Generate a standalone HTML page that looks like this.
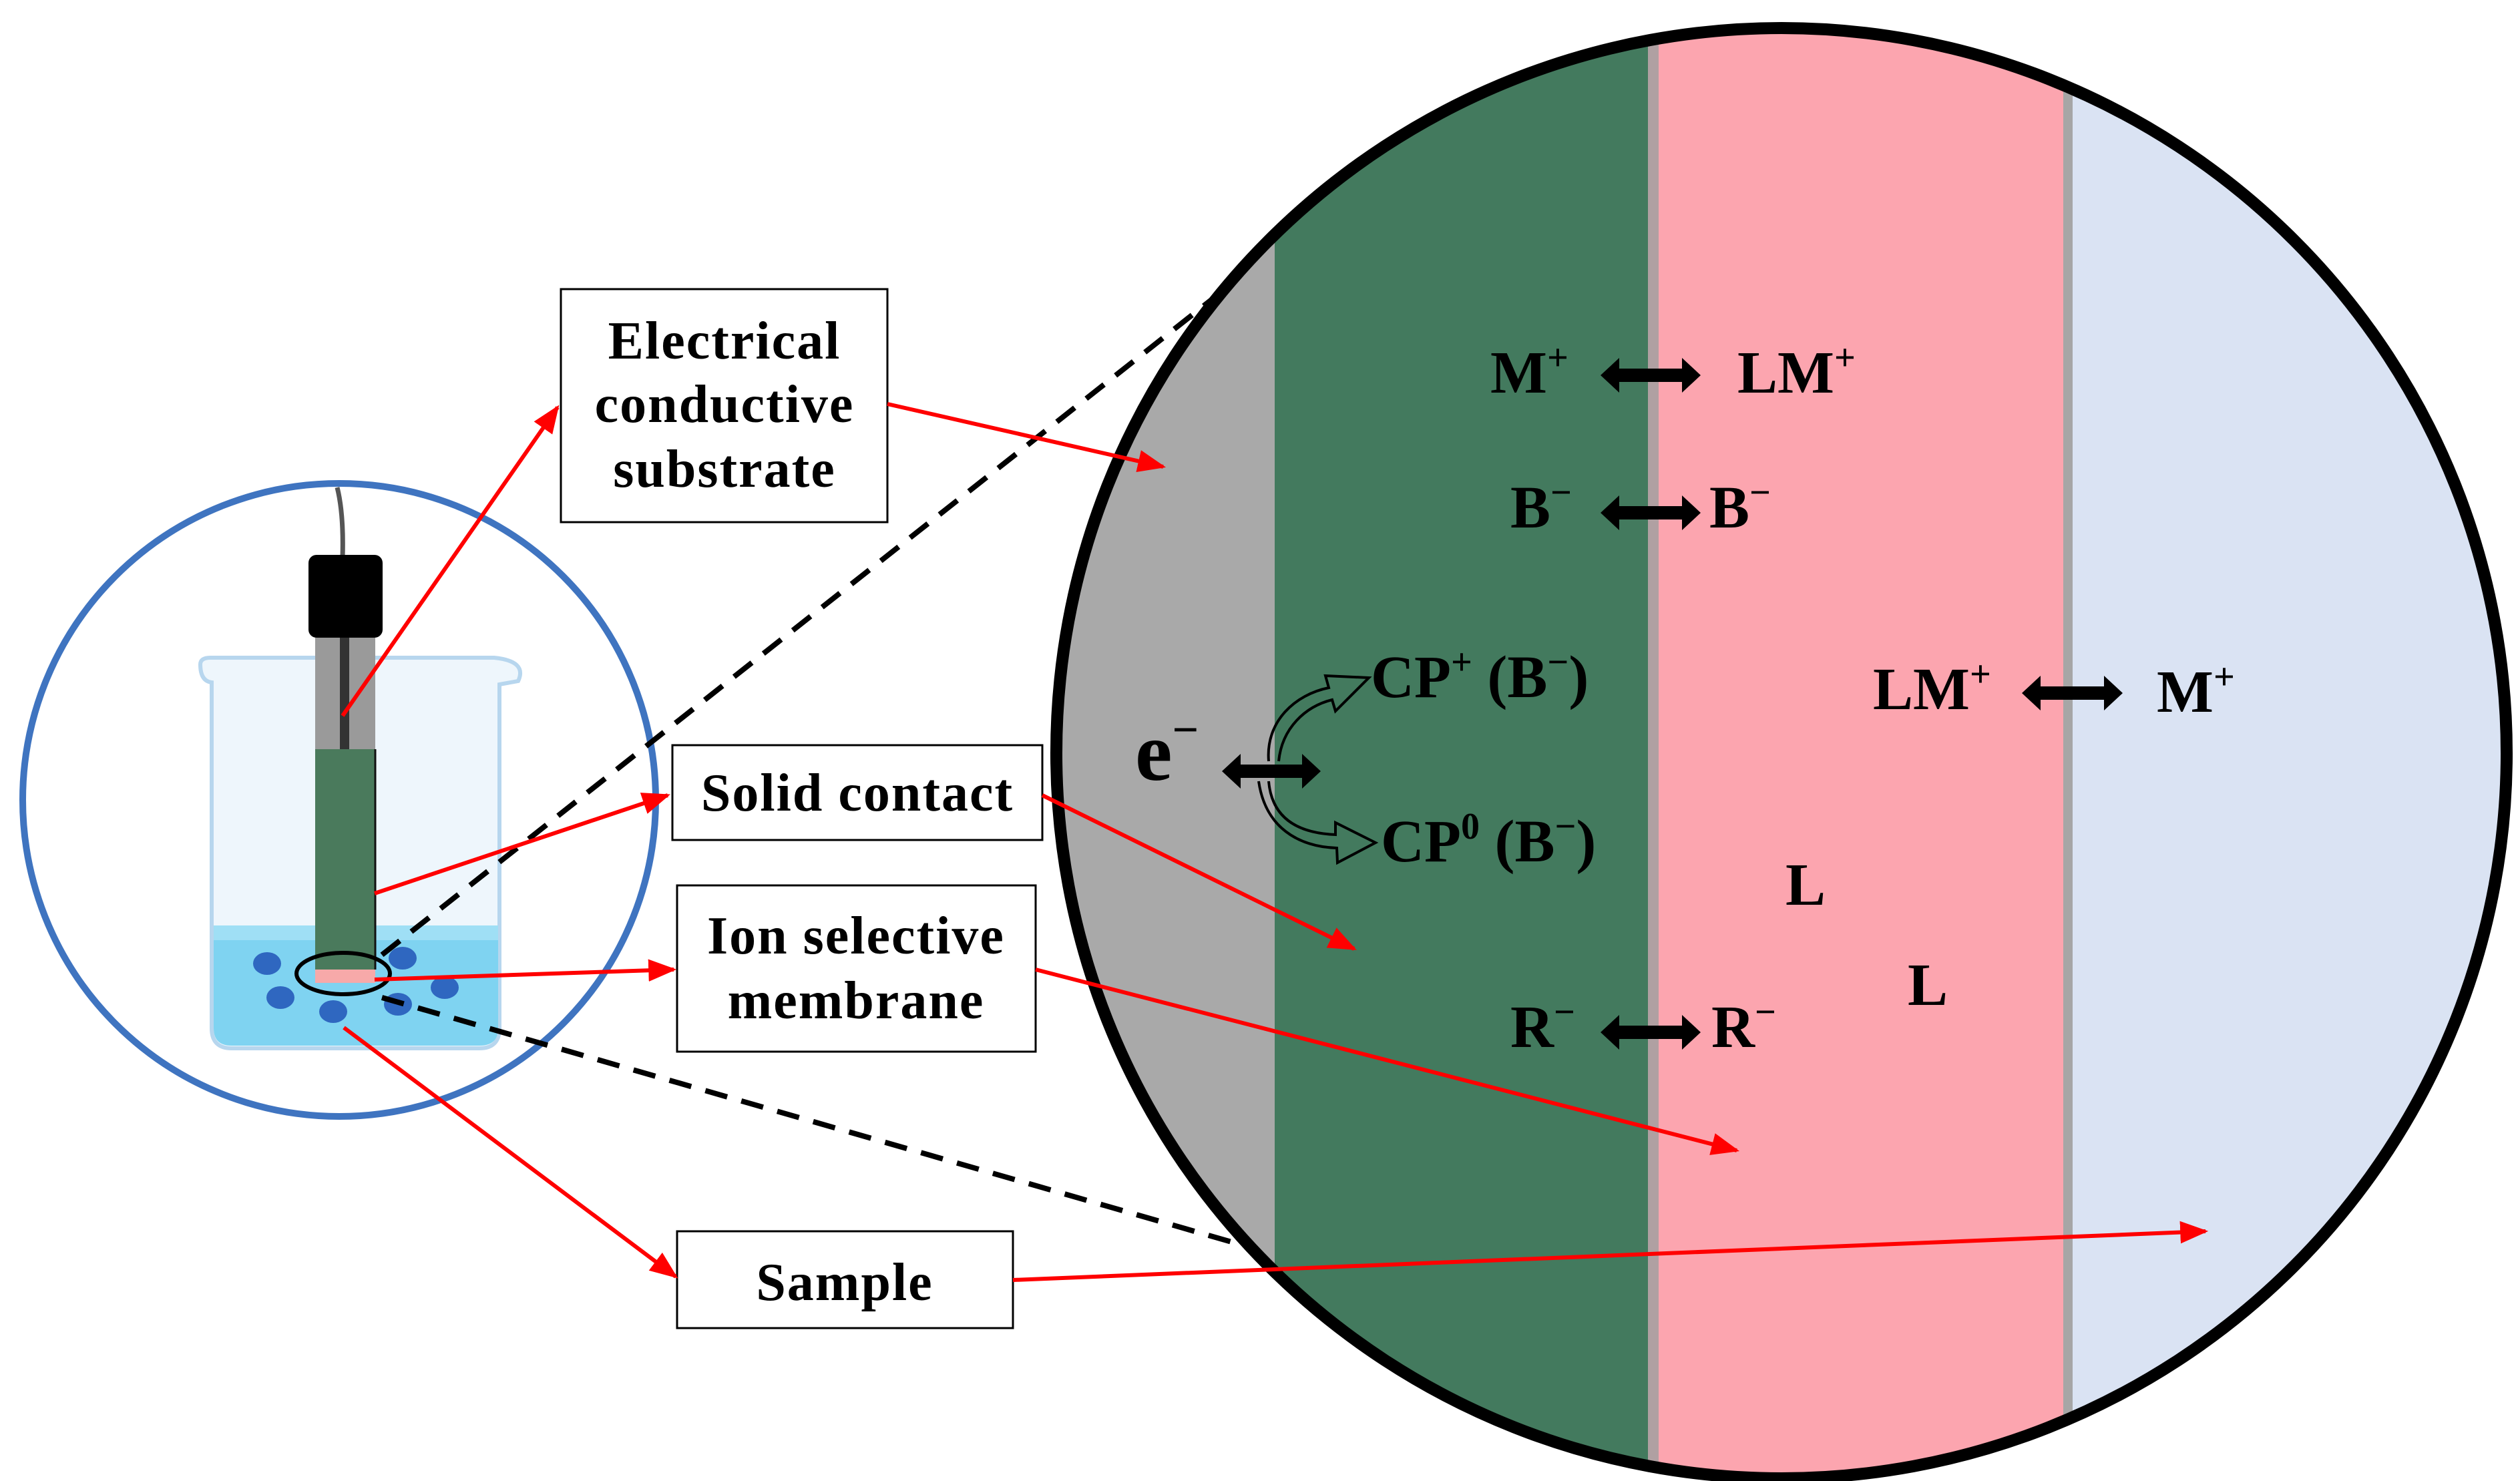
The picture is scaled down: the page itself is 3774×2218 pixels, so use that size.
<!DOCTYPE html>
<html><head><meta charset="utf-8"><style>
html,body{margin:0;padding:0;background:#fff;}
svg{display:block;}
text{font-family:"Liberation Serif",serif;font-weight:bold;fill:#000;}
</style></head><body>
<svg width="3774" height="2218" viewBox="0 0 3774 2218" xmlns="http://www.w3.org/2000/svg">
<defs>
<marker id="rh" viewBox="0 0 10 10" refX="9" refY="5" markerWidth="7" markerHeight="7" orient="auto"><path d="M0,1 L10,5 L0,9 Z" fill="#ff0000"/></marker>
<clipPath id="bc"><circle cx="2668" cy="1128" r="1086"/></clipPath>
</defs>

<circle cx="508" cy="1198" r="474" fill="#fff" stroke="#3f74c0" stroke-width="10"/>

<path d="M300,995 Q300,985 315,985 L740,985 Q790,990 776,1020 L748,1025 L748,1540 Q748,1570 718,1570 L347,1570 Q317,1570 317,1540 L317,1022 Q300,1020 300,995 Z" fill="#eef6fc" stroke="#b7d6ee" stroke-width="6"/>
<path d="M320,1386 L746,1386 L746,1540 Q746,1566 718,1566 L347,1566 Q320,1566 320,1540 Z" fill="#7fd3f1"/>
<rect x="320" y="1386" width="426" height="22" fill="#9fdff5"/>

<path d="M505,730 Q515,770 513,835" fill="none" stroke="#555" stroke-width="7"/>
<rect x="472" y="953" width="90" height="170" fill="#9a9a9a"/>
<rect x="509" y="953" width="14" height="170" fill="#333"/>
<rect x="462" y="831" width="111" height="124" rx="12" fill="#000"/>
<rect x="472" y="1122" width="90" height="330" fill="#4a7a5c"/>
<line x1="562" y1="1122" x2="562" y2="1452" stroke="#111" stroke-width="3"/>
<rect x="472" y="1452" width="90" height="20" fill="#f7a9a9"/>

<g fill="#2f67c0">
<ellipse cx="400" cy="1443" rx="21" ry="17"/>
<ellipse cx="420" cy="1494" rx="21" ry="17"/>
<ellipse cx="499" cy="1515" rx="21" ry="17"/>
<ellipse cx="596" cy="1504" rx="21" ry="17"/>
<ellipse cx="603" cy="1435" rx="21" ry="17"/>
<ellipse cx="666" cy="1479" rx="21" ry="17"/>
</g>
<ellipse cx="514" cy="1458" rx="70" ry="31" fill="none" stroke="#000" stroke-width="6"/>

<line x1="572" y1="1430" x2="1880" y2="397" stroke="#000" stroke-width="8" stroke-dasharray="34,22"/>
<line x1="572" y1="1494" x2="1900" y2="1876" stroke="#000" stroke-width="8" stroke-dasharray="34,22"/>

<g clip-path="url(#bc)">
<rect x="1500" y="0" width="2300" height="2218" fill="#dae3f3"/>
<rect x="1500" y="0" width="409" height="2218" fill="#a9a9a9"/>
<rect x="1909" y="0" width="559" height="2218" fill="#437a5e"/>
<rect x="2468" y="0" width="16" height="2218" fill="#b0a0a2"/>
<rect x="2484" y="0" width="606" height="2218" fill="#fca5af"/>
<rect x="3090" y="0" width="14" height="2218" fill="#a6a6a6"/>
</g>
<circle cx="2668" cy="1128" r="1086" fill="none" stroke="#000" stroke-width="18"/>

<g fill="#fff" stroke="#000" stroke-width="3">
<rect x="840" y="433" width="489" height="349"/>
<rect x="1007" y="1116" width="554" height="142"/>
<rect x="1014" y="1326" width="537" height="249"/>
<rect x="1014" y="1844" width="503" height="145"/>
</g>
<g font-size="80" text-anchor="middle" letter-spacing="2">
<text x="1085" y="537">Electrical</text>
<text x="1085" y="632">conductive</text>
<text x="1085" y="729">substrate</text>
<text x="1284" y="1214">Solid contact</text>
<text x="1282" y="1428">Ion selective</text>
<text x="1282" y="1525">membrane</text>
<text x="1265" y="1947">Sample</text>
</g>

<g font-size="90">
<text x="2232" y="588">M<tspan font-size="56" dy="-34">+</tspan></text>
<text x="2602" y="588">LM<tspan font-size="56" dy="-34">+</tspan></text>
<text x="2262" y="790">B<tspan font-size="56" dy="-34">−</tspan></text>
<text x="2560" y="790">B<tspan font-size="56" dy="-34">−</tspan></text>
<text x="2053" y="1044">CP<tspan font-size="56" dy="-34">+</tspan><tspan dy="34"> (B</tspan><tspan font-size="56" dy="-34">−</tspan><tspan dy="34">)</tspan></text>
<text x="2068" y="1290">CP<tspan font-size="56" dy="-34">0</tspan><tspan dy="34"> (B</tspan><tspan font-size="56" dy="-34">−</tspan><tspan dy="34">)</tspan></text>
<text x="2805" y="1062">LM<tspan font-size="56" dy="-34">+</tspan></text>
<text x="3230" y="1066">M<tspan font-size="56" dy="-34">+</tspan></text>
<text x="2674" y="1355">L</text>
<text x="2857" y="1505">L</text>
<text x="2262" y="1568">R<tspan font-size="56" dy="-34">−</tspan></text>
<text x="2563" y="1568">R<tspan font-size="56" dy="-34">−</tspan></text>
</g>
<text x="1700" y="1168" font-size="125">e<tspan font-size="70" dy="-52">−</tspan></text>

<g fill="#000">
<path d="M2397,562 L2425,536 L2425,552 L2519,552 L2519,536 L2547,562 L2519,588 L2519,572 L2425,572 L2425,588 Z"/>
<path d="M2397,768 L2425,742 L2425,758 L2519,758 L2519,742 L2547,768 L2519,794 L2519,778 L2425,778 L2425,794 Z"/>
<path d="M2397,1546 L2425,1520 L2425,1536 L2519,1536 L2519,1520 L2547,1546 L2519,1572 L2519,1556 L2425,1556 L2425,1572 Z"/>
<path d="M3028,1038 L3056,1012 L3056,1028 L3151,1028 L3151,1012 L3179,1038 L3151,1064 L3151,1048 L3056,1048 L3056,1064 Z"/>
<path d="M1830,1155 L1858,1129 L1858,1145 L1950,1145 L1950,1129 L1978,1155 L1950,1181 L1950,1165 L1858,1165 L1858,1181 Z"/>
</g>
<g fill="none" stroke="#000" stroke-width="4">
<path d="M1900,1140 C1895,1080 1940,1040 1990,1030 L1985,1012 L2050,1015 L2000,1065 L1995,1048 C1955,1058 1920,1090 1915,1140"/>
<path d="M1900,1170 C1905,1230 1950,1248 2000,1250 L2000,1232 L2060,1262 L2003,1292 L2002,1270 C1945,1268 1895,1240 1885,1170"/>
</g>

<g stroke="#ff0000" stroke-width="6" fill="none" marker-end="url(#rh)">
<line x1="513" y1="1072" x2="835" y2="610"/>
<line x1="1329" y1="605" x2="1742" y2="699"/>
<line x1="561" y1="1338" x2="1000" y2="1191"/>
<line x1="1561" y1="1191" x2="2028" y2="1421"/>
<line x1="561" y1="1467" x2="1009" y2="1452"/>
<line x1="1551" y1="1452" x2="2601" y2="1723"/>
<line x1="515" y1="1539" x2="1012" y2="1912"/>
<line x1="1517" y1="1917" x2="3303" y2="1844"/>
</g>
</svg>
</body></html>
